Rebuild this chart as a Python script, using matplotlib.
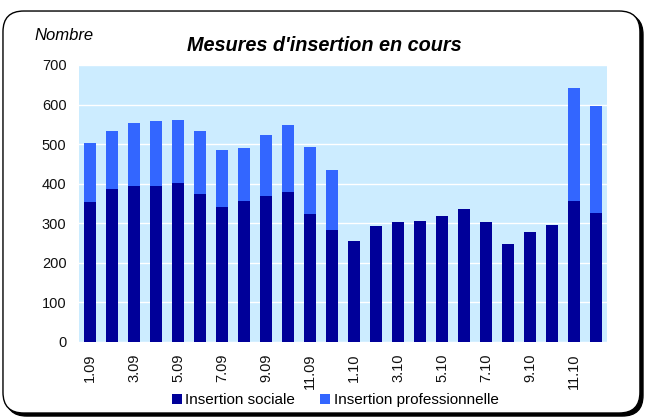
import matplotlib
matplotlib.use("Agg")
import matplotlib.pyplot as plt
from matplotlib.patches import FancyBboxPatch
import numpy as np

plt.rcParams["font.family"] = ["Liberation Sans", "DejaVu Sans"]

# Monthly counts, Jan 2009 .. Dec 2010
months = [f"{m}.{y}" for y in ("09", "10") for m in range(1, 13)]
sociale = [353, 386, 394, 394, 401, 374, 341, 356, 369, 379, 323, 283,
           255, 293, 303, 305, 318, 336, 303, 247, 277, 295, 356, 326]
total = [503, 533, 553, 558, 561, 533, 485, 490, 523, 548, 493, 434,
         255, 293, 303, 305, 318, 336, 303, 247, 277, 295, 642, 596]
professionnelle = [t - s for t, s in zip(total, sociale)]

DARK = "#000099"
LIGHT = "#3366FF"
BG = "#CCECFF"

W, H = 647, 419
fig = plt.figure(figsize=(W / 100, H / 100), dpi=100)

# rounded frame with a drop shadow (right/bottom edges look thicker)
box_kw = dict(boxstyle="round,pad=0,rounding_size=0.032",
              mutation_aspect=W / H, transform=fig.transFigure,
              edgecolor="black", linewidth=1.0)
shadow = FancyBboxPatch((0.0093, 0.0071), 0.9845, 0.9594,
                        facecolor="black", zorder=0, **box_kw)
frame = FancyBboxPatch((0.0046, 0.0143), 0.9845, 0.9594,
                       facecolor="white", zorder=1, **box_kw)
fig.patches.extend([shadow, frame])

ax = fig.add_axes([0.1221, 0.1838, 0.8161, 0.6611])
ax.set_zorder(2)
ax.set_facecolor(BG)

x = np.arange(len(months))
ax.bar(x, sociale, width=0.55, color=DARK, label="Insertion sociale", zorder=3)
ax.bar(x, professionnelle, width=0.55, bottom=sociale, color=LIGHT,
       label="Insertion professionnelle", zorder=3)

ax.set_xlim(-0.5, len(months) - 0.5)
ax.set_ylim(0, 700)
ax.set_yticks(range(0, 701, 100))
ax.yaxis.grid(True, color="white", linewidth=1.0, zorder=1)
ax.set_axisbelow(True)
for s in ax.spines.values():
    s.set_visible(False)

ax.set_xticks(x[::2])
ax.set_xticklabels(months[::2], rotation=90)
ax.tick_params(axis="both", length=0, labelsize=10.5, colors="#111111")
ax.tick_params(axis="y", pad=9)
ax.tick_params(axis="x", pad=8)

fig.text(0.054, 0.916, "Nombre", fontsize=12, style="italic", va="center")
fig.text(0.501, 0.891, "Mesures d'insertion en cours", fontsize=14.3,
         style="italic", fontweight="bold", ha="center", va="center")

ax.legend(loc="center", bbox_to_anchor=(0.485, -0.21), ncol=2,
          frameon=False, fontsize=11, handlelength=0.65, handleheight=0.65,
          handletextpad=0.25, columnspacing=1.6, borderpad=0)

fig.savefig("out.png", dpi=100)
